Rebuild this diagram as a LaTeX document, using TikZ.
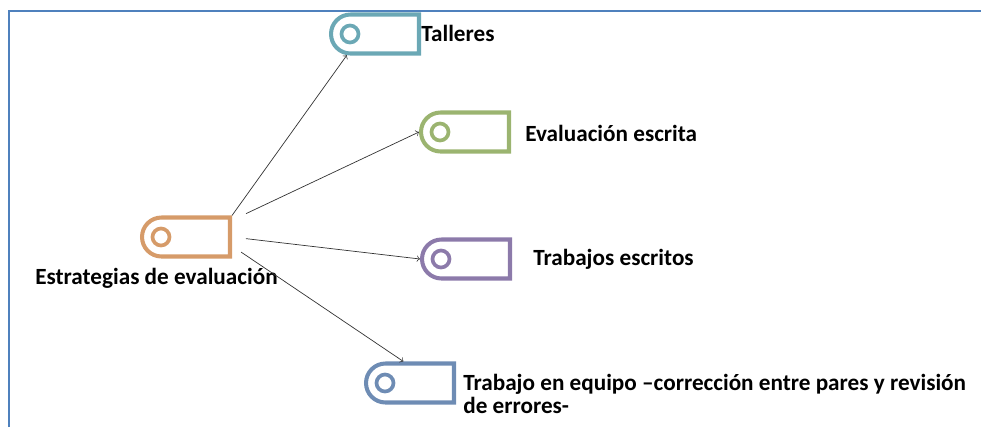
\documentclass[tikz,border=0pt]{standalone}
\usepackage{fontspec}
\setmainfont{Carlito}
\usetikzlibrary{%
  arrows,%
  shapes.misc%
}
\definecolor{tagorange}{RGB}{214,155,105}
\definecolor{tagteal}{RGB}{107,168,181}
\definecolor{taggreen}{RGB}{155,180,112}
\definecolor{tagpurple}{RGB}{140,122,170}
\definecolor{tagblue}{RGB}{110,140,180}
\definecolor{framecol}{RGB}{79,129,189}
\tikzset{>=to}
\tikzset{>=to, tag/.style = {rounded rectangle, rounded rectangle right arc=none,
	    draw=#1, line width=2.3pt, minimum width=1.76cm, minimum height=0.78cm,
	    inner sep=0pt, path picture={\draw[#1,line width=2.1pt]
	    ([xshift=0.38cm]path picture bounding box.west) circle (0.17cm);}},%
		lbl/.style={font=\bfseries\fontsize{13.2}{13.1}\selectfont, inner sep=0pt},
		link/.style={->,thin,black!80}}
\begin{document}
\begin{tikzpicture}[x=0.02cm,y=-0.02cm]
          \useasboundingbox (0,0) rectangle (981,427);
          \draw[framecol,line width=1.6pt] (9,427) -- (9,11) -- (981,11);
          \node[tag=tagorange] (src) at (186,237) {};
          \node[lbl,anchor=west] (srctxt) at (35,278) {Estrategias de evaluación};
          \node[tag=tagteal] (tall) at (375,34) {};
          \node[lbl,anchor=west] (talltxt) at (421,33) {Talleres};
          \node[tag=taggreen] (eval) at (465,132) {};
          \node[lbl,anchor=west] (evaltxt) at (525,133) {Evaluación escrita};
          \node[tag=tagpurple] (trab) at (466,259) {};
          \node[lbl,anchor=west] (trabtxt) at (533,259) {Trabajos escritos};
          \node[tag=tagblue] (equ) at (410,383) {};
          \node[lbl,anchor=west,align=left] (equtxt) at (463,394)
          {Trabajo en equipo –corrección entre pares y revisión\\de errores-};
          \draw[link] (src.north east) -- (tall.217);
          \draw[link,shorten <=0.31cm] (src.20) -- (eval.west);
          \draw[link,shorten <=0.28cm] (src.east) -- (trab.west);
          \draw[link,shorten <=0.22cm] (src.-11) -- (equ.107);
        \end{tikzpicture}
\end{document}
